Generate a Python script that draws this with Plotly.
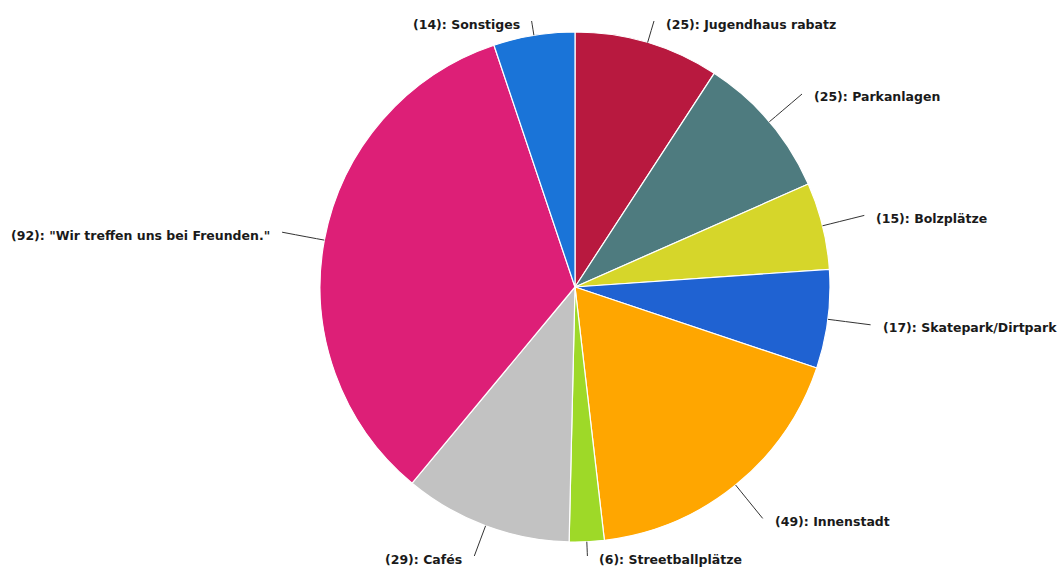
import math
import plotly.graph_objects as go

# Survey answers: where young people meet
categories = [
    "Jugendhaus rabatz",
    "Parkanlagen",
    "Bolzplätze",
    "Skatepark/Dirtpark",
    "Innenstadt",
    "Streetballplätze",
    "Cafés",
    "\"Wir treffen uns bei Freunden.\"",
    "Sonstiges",
]
counts = [25, 25, 15, 17, 49, 6, 29, 92, 14]
colors = [
    "#b8193f", "#4e7b7f", "#d6d62a", "#1f62d2", "#ffa600",
    "#9ed928", "#c2c2c2", "#dd1f77", "#1a74d8",
]

W, H = 1064, 567
CX, CY, R = 575, 287, 255      # pie centre and radius in pixels
LABEL_R = R + 43               # radius where leader lines end
Y_MIN, Y_MAX = 21, 556         # keep labels inside the canvas
GAP = 10

fig = go.Figure()
fig.add_trace(go.Pie(
    labels=categories,
    values=counts,
    sort=False,
    direction="clockwise",
    rotation=0,
    marker=dict(colors=colors, line=dict(color="white", width=1.2)),
    textinfo="none",
    hovertemplate="(%{value}): %{label}<extra></extra>",
    domain=dict(x=[(CX - R) / W, (CX + R) / W], y=[1 - (CY + R) / H, 1 - (CY - R) / H]),
    showlegend=False,
))

total = sum(counts)
shapes, annotations = [], []
cum = 0.0
for name, val in zip(categories, counts):
    mid = (cum + val / 2) / total * 2 * math.pi
    cum += val
    sx, sy = math.sin(mid), -math.cos(mid)
    ax, ay = CX + R * sx, CY + R * sy
    t = LABEL_R
    ey = CY + t * sy
    if ey < Y_MIN or ey > Y_MAX:
        # shorten the leader so it stops at the canvas limit along the same ray
        ey = min(max(ey, Y_MIN), Y_MAX)
        t = (ey - CY) / sy
    ex = CX + t * sx
    cx_, cy_ = CX + (R + 14) * sx, CY + (R + 14) * sy
    shapes.append(dict(
        type="path", xref="x", yref="y",
        path=f"M {ax:.1f},{ay:.1f} Q {cx_:.1f},{cy_:.1f} {ex:.1f},{ey:.1f}",
        line=dict(color="#333333", width=1),
    ))
    right = sx >= 0
    annotations.append(dict(
        x=ex + (GAP if right else -GAP), y=ey + 3, xref="x", yref="y",
        text=f"({val}): {name}", showarrow=False,
        xanchor="left" if right else "right", yanchor="middle",
        font=dict(family="DejaVu Sans", size=12.5, color="#1a1a1a", weight="bold"),
    ))

fig.update_layout(
    width=W, height=H,
    margin=dict(l=0, r=0, t=0, b=0),
    paper_bgcolor="white", plot_bgcolor="rgba(0,0,0,0)",
    xaxis=dict(range=[0, W], visible=False, fixedrange=True),
    yaxis=dict(range=[H, 0], visible=False, fixedrange=True),
    shapes=shapes,
    annotations=annotations,
)

fig.write_html("out.html")
